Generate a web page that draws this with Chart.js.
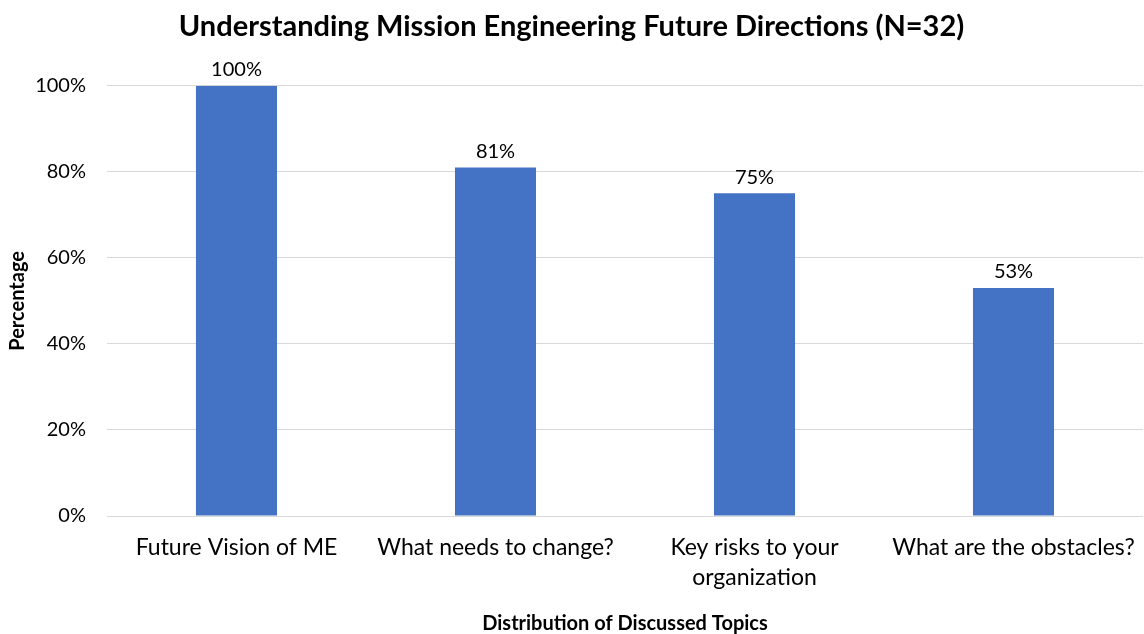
<!DOCTYPE html>
<html>
<head>
<meta charset="utf-8">
<title>Understanding Mission Engineering Future Directions</title>
<script src="https://cdn.jsdelivr.net/npm/chart.js@4/dist/chart.umd.min.js"></script>
<style>
  html, body { margin: 0; padding: 0; background: #ffffff; }
  #wrap { width: 1144px; height: 634px; }
</style>
</head>
<body>
<div id="wrap"><canvas id="chart" width="1144" height="634"></canvas></div>
<script>
// Topics discussed and the share of respondents (N=32) who raised each one
const categories = [
  "Future Vision of ME",
  "What needs to change?",
  ["Key risks to your", "organization"],
  "What are the obstacles?"
];
const percentages = [100, 81, 75, 53];
const yTicks = [0, 20, 40, 60, 80, 100];

const FONT = "Lato, 'Open Sans', sans-serif";

// Writes each bar's percentage just above its top
const valueLabels = {
  id: "valueLabels",
  afterDatasetsDraw(chart) {
    const ctx = chart.ctx;
    const meta = chart.getDatasetMeta(0);
    ctx.save();
    ctx.font = "20px " + FONT;
    ctx.fillStyle = "#000000";
    ctx.textAlign = "center";
    ctx.textBaseline = "bottom";
    meta.data.forEach((bar, i) => {
      ctx.fillText(percentages[i] + "%", bar.x, bar.y - 6);
    });
    ctx.restore();
  }
};

new Chart(document.getElementById("chart"), {
  type: "bar",
  data: {
    labels: categories,
    datasets: [{
      data: percentages,
      backgroundColor: "#4472C4",
      borderWidth: 0,
      barPercentage: 1,
      categoryPercentage: 0.313
    }]
  },
  options: {
    responsive: false,
    animation: false,
    layout: { padding: { left: 0, right: 1, top: 0, bottom: 0 } },
    plugins: {
      legend: { display: false },
      tooltip: { enabled: false },
      title: {
        display: true,
        text: "Understanding Mission Engineering Future Directions (N=32)",
        color: "#000000",
        font: { family: FONT, size: 29, weight: "bold", lineHeight: 1.2 },
        padding: { top: 9, bottom: 42 }
      }
    },
    scales: {
      x: {
        grid: { display: false, drawTicks: false },
        border: { display: false },
        afterFit(scale) {
          // fixed band for the category labels and axis title; no side overhang
          scale.height = 118;
          scale.paddingLeft = 0;
          scale.paddingRight = 0;
        },
        ticks: {
          color: "#000000",
          font: { family: FONT, size: 23, lineHeight: 1.3 },
          maxRotation: 0,
          autoSkip: false,
          padding: 17
        },
        title: {
          display: true,
          text: "Distribution of Discussed Topics",
          color: "#000000",
          font: { family: FONT, size: 20, weight: "bold", lineHeight: 1.0 },
          padding: { top: 17, bottom: 0 }
        }
      },
      y: {
        min: 0,
        max: 100,
        afterBuildTicks(axis) {
          axis.ticks = yTicks.map(v => ({ value: v }));
        },
        afterFit(scale) {
          scale.width = 107;
          scale.paddingTop = 0;
          scale.paddingBottom = 0;
        },
        grid: { color: "#d9d9d9", lineWidth: 1, drawTicks: false },
        border: { display: false },
        ticks: {
          color: "#000000",
          font: { family: FONT, size: 20 },
          padding: 21,
          callback: v => v + "%"
        },
        title: {
          display: true,
          text: "Percentage",
          color: "#000000",
          font: { family: FONT, size: 20, weight: "bold", lineHeight: 1.2 },
          padding: { top: 6, bottom: 5 }
        }
      }
    }
  },
  plugins: [valueLabels]
});
</script>
</body>
</html>
